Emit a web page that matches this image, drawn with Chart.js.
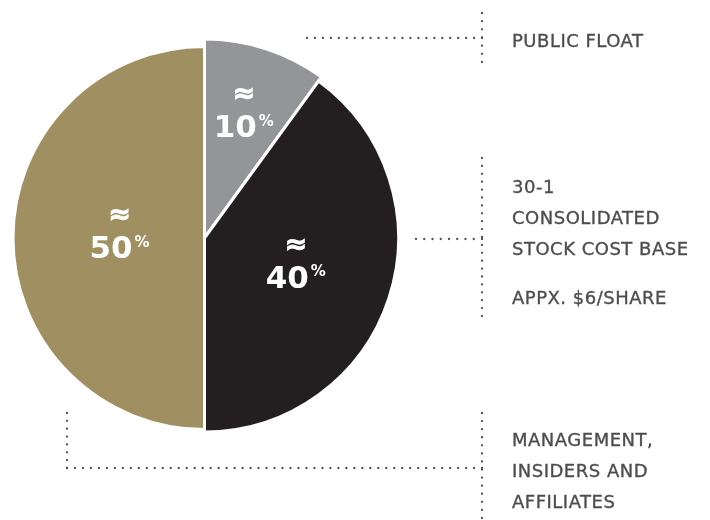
<!DOCTYPE html>
<html lang="en">
<head>
    <meta charset="UTF-8">
    <title>Share structure</title>
    <script src="https://cdn.jsdelivr.net/npm/chart.js"></script>
    <style>
        body { margin: 0; background: #fff; }
        #wrap { position: relative; width: 710px; height: 520px; }
        #pie { position: absolute; left: 0; top: 0; }
        .note {
            position: absolute;
            left: 512px;
            font-family: "DejaVu Sans", sans-serif;
            font-size: 18px;
            letter-spacing: 0.5px;
            color: #4d4d4f;
            -webkit-text-stroke: 0.35px #4d4d4f;
            line-height: 31px;
            white-space: nowrap;
        }
        .note .gap { margin-top: 18px; }
    </style>
</head>
<body>
<div id="wrap">
    <canvas id="pie" width="710" height="520"></canvas>
</div>

<script>
    // data
    const categories = ['Public float', 'Consolidated stock', 'Management, insiders and affiliates'];
    const shares = [10, 40, 50];
    const noteLines = [
        ['PUBLIC FLOAT'],
        ['30-1', 'CONSOLIDATED', 'STOCK COST BASE'],
        ['MANAGEMENT,', 'INSIDERS AND', 'AFFILIATES']
    ];
    const noteExtra = ['', 'APPX. $6/SHARE', ''];

    // styles
    const sliceColors = ['#939598', '#231f20', '#a08f60'];
    const sliceRadius = [199, 194, 191.5];
    const labelDist = [127, 96, 85];
    const noteFirstLine = [40, 186, 439];
    const leaderLines = [
        [307, 38, 482, 38], [482, 13, 482, 62],
        [416, 239, 482, 239], [482, 158, 482, 316],
        [67, 413, 67, 468], [67, 468, 482, 468], [482, 413, 482, 518]
    ];

    // side notes
    const wrap = document.getElementById('wrap');
    noteLines.forEach((lines, i) => {
        const div = document.createElement('div');
        div.className = 'note';
        div.style.top = (noteFirstLine[i] - 15.5) + 'px';
        div.innerHTML = lines.map(l => `<div>${l}</div>`).join('') +
            (noteExtra[i] ? `<div class="gap">${noteExtra[i]}</div>` : '');
        wrap.appendChild(div);
    });

    // per-slice radius
    const sliceSize = {
        id: 'sliceSize',
        beforeDatasetsDraw(chart) {
            chart.getDatasetMeta(0).data.forEach((arc, i) => {
                arc.outerRadius = sliceRadius[i];
            });
        }
    };

    // ≈ NN% labels
    const pctLabels = {
        id: 'pctLabels',
        afterDatasetsDraw(chart) {
            const ctx = chart.ctx;
            chart.getDatasetMeta(0).data.forEach((arc, i) => {
                const mid = (arc.startAngle + arc.endAngle) / 2;
                const x = arc.x + Math.cos(mid) * labelDist[i];
                const y = arc.y + Math.sin(mid) * labelDist[i];
                const num = String(shares[i]);
                ctx.save();
                ctx.fillStyle = '#fff';
                ctx.strokeStyle = '#fff';
                ctx.textAlign = 'left';
                ctx.textBaseline = 'alphabetic';
                ctx.font = 'bold 31px "DejaVu Sans"';
                const numW = ctx.measureText(num).width;
                ctx.font = 'bold 15px "DejaVu Sans"';
                const pctW = ctx.measureText('%').width;
                const left = x - (numW + 2 + pctW) / 2;
                const base = y + 20;
                ctx.font = 'bold 31px "DejaVu Sans"';
                ctx.fillText(num, left, base);
                ctx.font = 'bold 15px "DejaVu Sans"';
                ctx.fillText('%', left + numW + 2, base - 11.5);
                ctx.font = 'bold 27px "DejaVu Sans"';
                ctx.textAlign = 'center';
                ctx.textBaseline = 'middle';
                ctx.lineWidth = 0.8;
                ctx.fillText('≈', x, base - 42);
                ctx.strokeText('≈', x, base - 42);
                ctx.restore();
            });
        }
    };

    // dotted leader lines
    const leaders = {
        id: 'leaders',
        afterDraw(chart) {
            const ctx = chart.ctx;
            ctx.save();
            ctx.fillStyle = '#4d4d4f';
            leaderLines.forEach(([x1, y1, x2, y2]) => {
                const len = Math.hypot(x2 - x1, y2 - y1);
                const n = Math.round(len / 8);
                for (let k = 0; k <= n; k++) {
                    const t = k / n;
                    ctx.beginPath();
                    ctx.arc(x1 + (x2 - x1) * t, y1 + (y2 - y1) * t, 1.15, 0, Math.PI * 2);
                    ctx.fill();
                }
            });
            ctx.restore();
        }
    };

    const chart = new Chart(document.getElementById('pie'), {
        type: 'pie',
        data: {
            labels: categories,
            datasets: [{
                data: shares,
                backgroundColor: sliceColors,
                borderColor: '#ffffff',
                borderWidth: 3
            }]
        },
        options: {
            responsive: false,
            animation: false,
            events: [],
            layout: { padding: { left: 0, top: 0, right: 301, bottom: 44 } },
            plugins: {
                legend: { display: false },
                tooltip: { enabled: false }
            }
        },
        plugins: [sliceSize, pctLabels, leaders]
    });
</script>
</body>
</html>
